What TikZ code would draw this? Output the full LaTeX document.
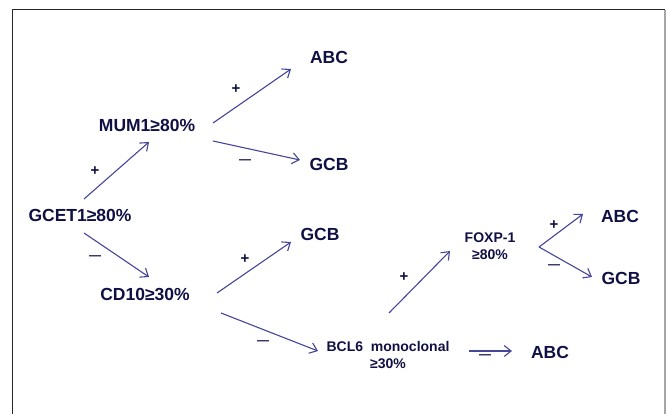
\documentclass[tikz,border=0pt]{standalone}
\usepackage{fontspec}
\setmainfont{Liberation Sans}
\usepackage{tikz}
\usetikzlibrary{arrows.meta}
\definecolor{inkblue}{HTML}{101044}
\definecolor{arrblue}{HTML}{45459A}
\tikzset{
  lab/.style={font=\bfseries\fontsize{17.5}{18}\selectfont, text=inkblue,
              inner sep=0pt, align=center},
  slab/.style={font=\bfseries\fontsize{14}{17}\selectfont, text=inkblue,
               inner sep=0pt, align=center},
  sgn/.style={font=\bfseries\fontsize{15}{15}\selectfont, text=inkblue,
              inner sep=0pt},
  neg/.style={font=\bfseries\fontsize{12}{12}\selectfont, text=inkblue,
              inner sep=0pt},
  arr/.style={-{Straight Barb[length=7pt,width=11pt]}, draw=arrblue,
              line width=1.1pt},
  frame/.style={line width=1.3pt},
}

\begin{document}
\begin{tikzpicture}[x=1pt,y=-1pt]
\useasboundingbox (0,0) rectangle (667,413);
% frame
\draw[frame, black!85] (12.5,414) -- (12.5,9.5) -- (665,9.5);
\draw[frame, black!35] (665,9.5) -- (665,414);

% decision nodes
\node[lab] (gcet) at (80,215) {GCET1≥80\%};
\node[lab] (mum) at (147,125) {MUM1≥80\%};
\node[lab] (cd) at (145,294) {CD10≥30\%};
\node[slab] (bcl) at (388,355) {BCL6\ \ monoclonal\\≥30\%};
\node[slab] (foxp) at (490,246) {FOXP-1\\≥80\%};

% outcomes
\node[lab] (abcA) at (329,57) {ABC};
\node[lab] (gcbA) at (329,164) {GCB};
\node[lab] (gcbB) at (320,234) {GCB};
\node[lab] (abcB) at (620,216) {ABC};
\node[lab] (gcbC) at (621,278) {GCB};
\node[lab] (abcC) at (550,352) {ABC};

% connectors
\draw[arr] ([shift={(4,-16)}]gcet.center) -- ([shift={(2,17)}]mum.center);
\draw[arr] ([shift={(4,18)}]gcet.center) -- ([shift={(4,-17)}]cd.center);
\draw[arr] ([shift={(66,-2)}]mum.center) -- ([shift={(-38,12)}]abcA.center);
\draw[arr] ([shift={(66,16)}]mum.center) -- ([shift={(-29,-4)}]gcbA.center);
\draw[arr] ([shift={(72,-1)}]cd.center) -- ([shift={(-29,8)}]gcbB.center);
\draw[arr] ([shift={(76,19)}]cd.center) -- ([shift={(-70,-4)}]bcl.center);
\draw[arr] ([shift={(1,-42)}]bcl.center) -- ([shift={(-40,5)}]foxp.center);
\draw[arr] ([shift={(81,-4)}]bcl.center) -- ([shift={(-38,-1)}]abcC.center);
\coordinate (split) at ([shift={(49,1)}]foxp.center);
\draw[arr] (split) -- ([shift={(-37,-2)}]abcB.center);
\draw[arr] (split) -- ([shift={(-29,-1)}]gcbC.center);

% signs
\node[sgn] (s1) at (95,171) {+};
\node[neg] (s2) at (95,258) {---};
\node[sgn] (s3) at (236,89) {+};
\node[neg] (s4) at (245,162) {---};
\node[sgn] (s5) at (245,259) {+};
\node[neg] (s6) at (263,343) {---};
\node[sgn] (s7) at (404,277) {+};
\node[sgn] (s8) at (554,225) {+};
\node[neg] (s9) at (554,267) {---};
\node[neg] (s10) at (485,357) {---};
\end{tikzpicture}
\end{document}
